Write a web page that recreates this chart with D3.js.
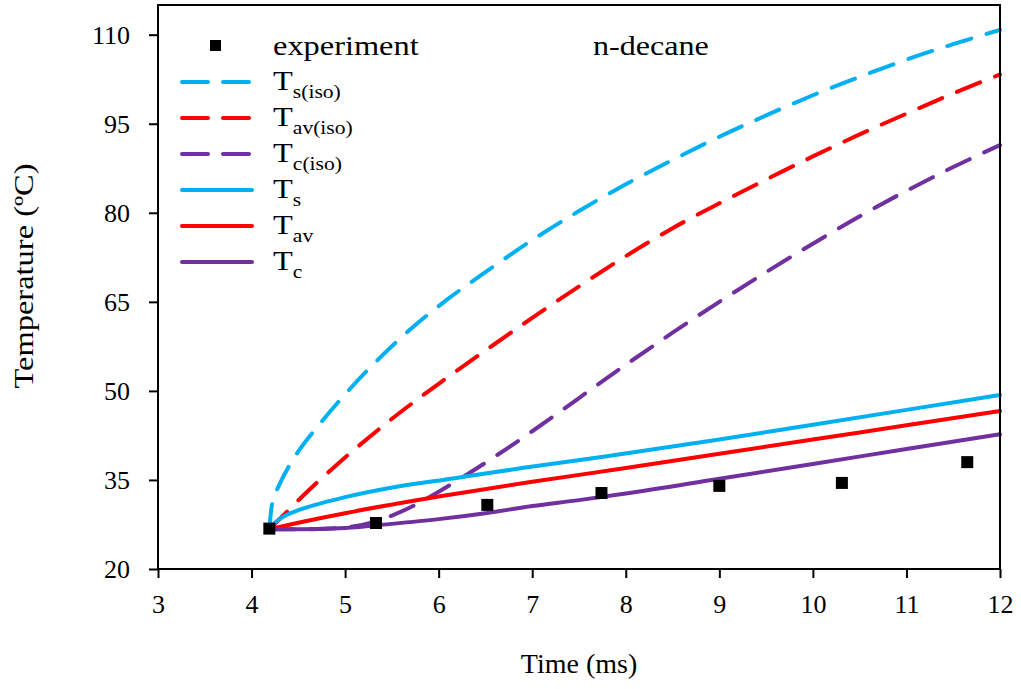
<!DOCTYPE html>
<html>
<head>
<meta charset="utf-8">
<script src="https://cdn.jsdelivr.net/npm/d3@7"></script>
<style>
  body { margin: 0; background: #fff; }
  text { font-family: "Liberation Serif", "Times New Roman", serif; }
</style>
</head>
<body>
<svg id="chart" width="1021" height="689"></svg>
<script>
var experiment = [[4.19, 26.8], [5.33, 27.75], [6.52, 30.8], [7.74, 32.8], [9.0, 34.0], [10.31, 34.5], [11.65, 38.0]];

var tsIso = [[4.19, 26.7], [4.21, 30.0], [4.24, 32.0], [4.3, 34.3], [4.41, 37.6], [4.54, 40.7], [4.68, 43.5],
  [4.97, 48.9], [5.29, 54.3], [5.67, 60.0], [6.1, 65.5], [6.5, 70.0], [7, 75.4], [7.5, 80.3], [8, 84.8],
  [8.5, 88.9], [9, 92.8], [9.5, 96.4], [10, 99.8], [10.5, 102.9], [11, 105.8], [11.5, 108.4], [12, 110.8]];

var tavIso = [[4.19, 26.7], [4.4, 30.0], [4.6, 33.1], [4.8, 36.0], [5, 38.8], [5.25, 42.1], [5.5, 45.3],
  [5.75, 48.3], [6, 51.2], [6.5, 56.8], [7, 62.3], [7.5, 67.6], [8, 72.7], [8.5, 77.4], [9, 81.6],
  [9.5, 85.6], [10, 89.5], [10.5, 93.2], [11, 96.7], [11.5, 100.1], [12, 103.3]];

var tcIso = [[4.19, 26.7], [4.6, 26.7], [4.9, 26.85], [5.1, 27.2], [5.3, 27.9], [5.5, 29.0], [5.75, 30.8],
  [6, 33.0], [6.25, 35.4], [6.5, 37.9], [6.75, 40.5], [7, 43.2], [7.5, 48.8], [8, 54.4], [8.5, 59.8],
  [9, 65.0], [9.5, 70.0], [10, 74.8], [10.5, 79.4], [11, 83.7], [11.5, 87.7], [12, 91.4]];

var ts = [[4.19, 26.7], [4.25, 27.8], [4.35, 28.9], [4.5, 29.9], [4.75, 31.1], [5, 32.1], [5.46, 33.6],
  [6.17, 35.3], [6.89, 37.0], [7.76, 38.9], [9, 41.8], [10, 44.3], [11, 46.8], [12, 49.3]];

var tav = [[4.19, 26.7], [4.5, 27.8], [5, 29.4], [6, 32.2], [7, 34.7], [8, 37.0], [9, 39.4], [10, 41.8],
  [11, 44.2], [12, 46.6]];

var tc = [[4.19, 26.7], [4.5, 26.7], [5, 26.9], [5.5, 27.6], [6, 28.4], [6.5, 29.4], [7, 30.6], [7.5, 31.6],
  [8, 32.7], [9, 35.2], [10, 37.7], [11, 40.2], [12, 42.7]];

var xTicks = [3, 4, 5, 6, 7, 8, 9, 10, 11, 12];
var yTicks = [20, 35, 50, 65, 80, 95, 110];

var series = [
  { name: "T", sub: "s(iso)", data: tsIso, color: "#00b0f0", dashed: true },
  { name: "T", sub: "av(iso)", data: tavIso, color: "#ff0000", dashed: true },
  { name: "T", sub: "c(iso)", data: tcIso, color: "#7030a0", dashed: true },
  { name: "T", sub: "s", data: ts, color: "#00b0f0", dashed: false },
  { name: "T", sub: "av", data: tav, color: "#ff0000", dashed: false },
  { name: "T", sub: "c", data: tc, color: "#7030a0", dashed: false }
];

var svg = d3.select("#chart");
var plotL = 158, plotR = 1000, plotT = 5, plotB = 569;

var x = d3.scaleLinear().domain([3, 12]).range([plotL, plotR]);
var y = d3.scaleLinear().domain([20, 115]).range([plotB, plotT]);

var line = d3.line()
  .x(function (d) { return x(d[0]); })
  .y(function (d) { return y(d[1]); })
  .curve(d3.curveMonotoneX);

// curves (dashed first, solid on top)
svg.append("g").selectAll("path")
  .data(series)
  .enter().append("path")
  .attr("d", function (d) { return line(d.data); })
  .attr("fill", "none")
  .attr("stroke", function (d) { return d.color; })
  .attr("stroke-width", 4)
  .attr("stroke-linecap", "round")
  .attr("stroke-dasharray", function (d) { return d.dashed ? "25,16" : null; });

// experiment markers
svg.append("g").selectAll("rect")
  .data(experiment)
  .enter().append("rect")
  .attr("x", function (d) { return x(d[0]) - 6; })
  .attr("y", function (d) { return y(d[1]) - 6; })
  .attr("width", 12)
  .attr("height", 12)
  .attr("fill", "#000");

// frame
svg.append("rect")
  .attr("x", plotL).attr("y", plotT)
  .attr("width", plotR - plotL).attr("height", plotB - plotT)
  .attr("fill", "none").attr("stroke", "#000").attr("stroke-width", 2);

// axes
var xAxis = svg.append("g")
  .attr("transform", "translate(0," + plotB + ")")
  .call(d3.axisBottom(x).tickValues(xTicks).tickSize(9).tickPadding(12).tickFormat(d3.format("d")));
var yAxis = svg.append("g")
  .attr("transform", "translate(" + plotL + ",0)")
  .call(d3.axisLeft(y).tickValues(yTicks).tickSize(9).tickPadding(19).tickFormat(d3.format("d")));

[xAxis, yAxis].forEach(function (a) {
  a.select(".domain").remove();
  a.selectAll(".tick line").attr("stroke", "#000").attr("stroke-width", 2);
  a.selectAll(".tick text")
    .attr("fill", "#000")
    .style("font-family", "'Liberation Serif', 'Times New Roman', serif")
    .style("font-size", "26px");
});
xAxis.selectAll(".tick text").attr("dy", "0.9em");
yAxis.selectAll(".tick text").attr("dy", "0.34em");

// axis titles
svg.append("text")
  .attr("x", (plotL + plotR) / 2).attr("y", 673)
  .attr("text-anchor", "middle")
  .style("font-size", "28px")
  .text("Time (ms)");

svg.append("text")
  .attr("transform", "translate(33,276) rotate(-90)")
  .attr("text-anchor", "middle")
  .attr("textLength", 225)
  .attr("lengthAdjust", "spacingAndGlyphs")
  .style("font-size", "27px")
  .text("Temperature (ºC)");

svg.append("text")
  .attr("transform", "translate(593,55) scale(1.19,1)")
  .style("font-size", "27px")
  .text("n-decane");

// legend
var legend = svg.append("g");
var lx0 = 182, lx1 = 252, tx = 273;

legend.append("rect")
  .attr("x", 210).attr("y", 40).attr("width", 11).attr("height", 11).attr("fill", "#000");
legend.append("text")
  .attr("transform", "translate(" + tx + ",55) scale(1.2,1)")
  .style("font-size", "27px")
  .text("experiment");

var rows = legend.selectAll("g.row")
  .data(series)
  .enter().append("g")
  .attr("class", "row")
  .attr("transform", function (d, i) { return "translate(0," + (82 + i * 36) + ")"; });

rows.append("line")
  .attr("x1", lx0).attr("x2", lx1)
  .attr("stroke", function (d) { return d.color; })
  .attr("stroke-width", 4)
  .attr("stroke-linecap", "round")
  .attr("stroke-dasharray", function (d) { return d.dashed ? "26,15" : null; });

var lt = rows.append("text")
  .attr("transform", "translate(" + tx + ",8) scale(1.2,1)")
  .style("font-size", "27px");
lt.append("tspan").text(function (d) { return d.name; });
lt.append("tspan")
  .attr("dy", 8)
  .style("font-size", "18px")
  .text(function (d) { return d.sub; });
</script>
</body>
</html>
